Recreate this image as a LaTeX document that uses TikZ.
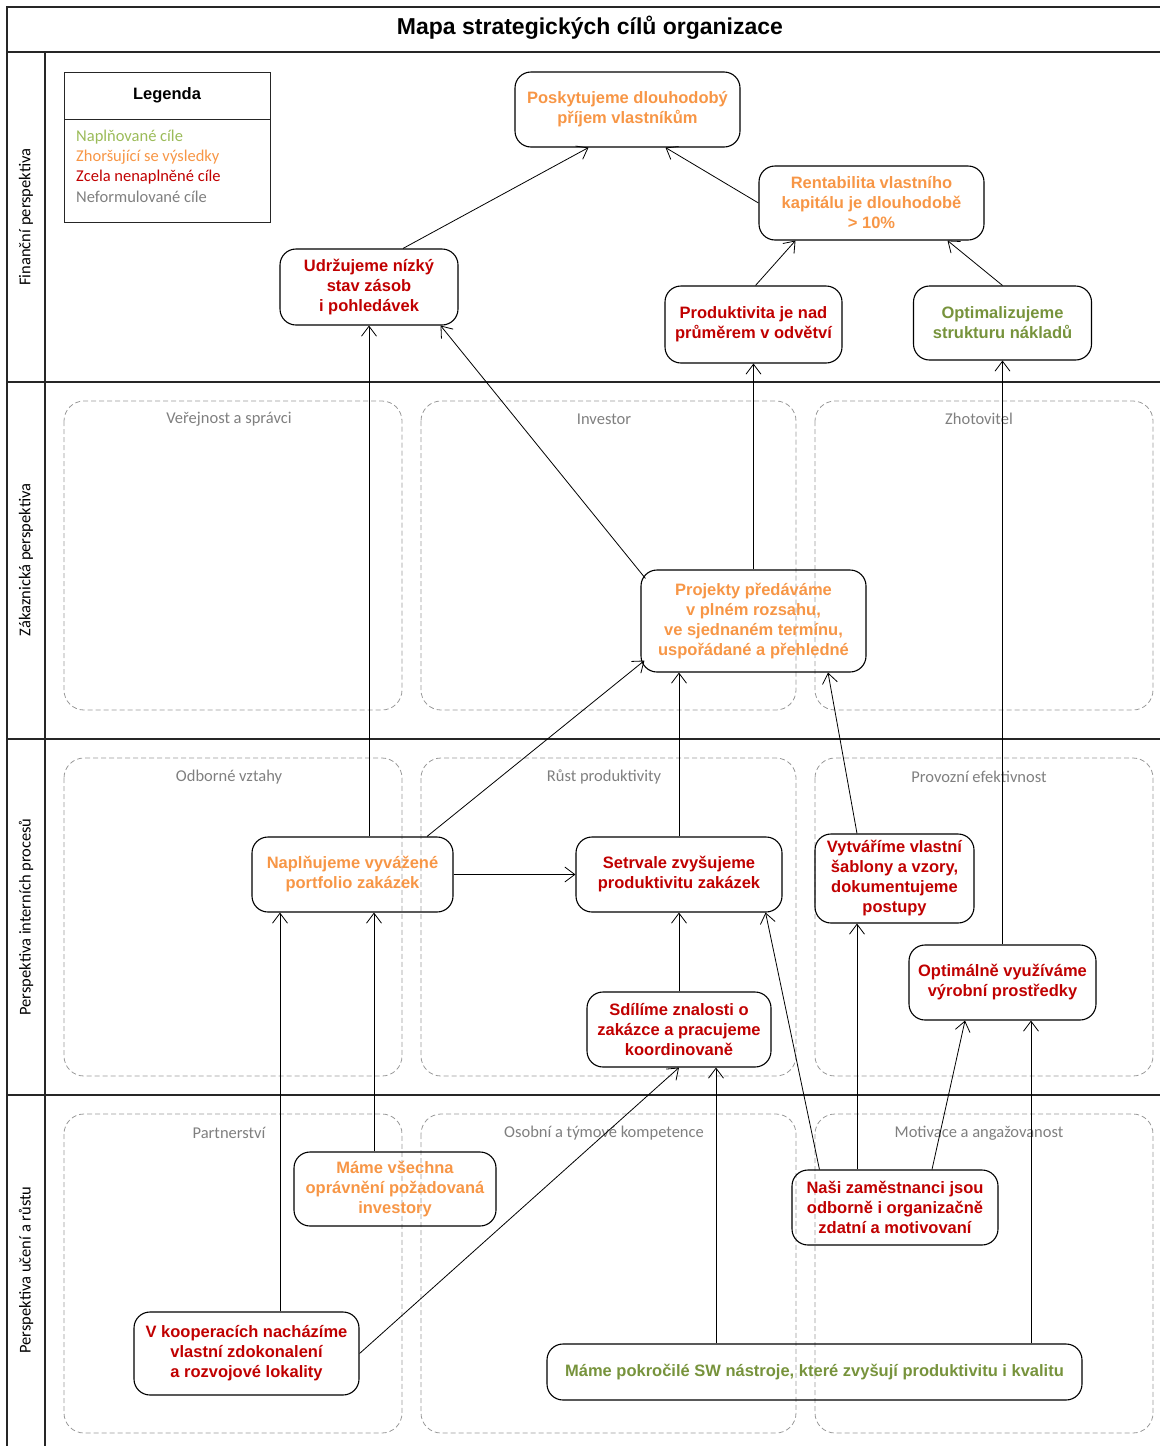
\documentclass[tikz,border=0pt]{standalone}
\usepackage{fontspec}
\setmainfont{Liberation Sans}
\newfontfamily\calibri{Carlito}
\usepackage{tikz}
\usetikzlibrary{arrows.meta}

\definecolor{zelena}{HTML}{77933C}
\definecolor{svzelena}{HTML}{9BBB59}
\definecolor{oranzova}{HTML}{F79646}
\definecolor{cervena}{HTML}{C00000}
\definecolor{seda}{HTML}{7F7F7F}

\begin{document}
\begin{tikzpicture}[
    x=1pt, y=-1pt,
    >={Straight Barb[length=10pt,width=15pt]},
    ramec/.style={line width=1.2pt, draw=black!85},
    cil/.style={draw, line width=1.1pt, rounded corners=16pt, align=center, inner sep=0pt,
        font=\fontsize{16.5}{20}\selectfont\bfseries},
    skupina/.style={draw=black!40, dash pattern=on 5pt off 3pt, line width=0.8pt, rounded corners=20pt},
    popis/.style={font=\calibri\fontsize{16.5}{20}\selectfont, text=seda},
    vazba/.style={->, line width=0.8pt}
]
\useasboundingbox (0,0) rectangle (1160,1446);

% rám, nadpis a perspektivy
\draw[ramec] (7,1446) -- (7,7) -- (1160,7);
\draw[ramec] (7,52) -- (1160,52);
\draw[ramec] (7,382) -- (1160,382);
\draw[ramec] (7,739) -- (1160,739);
\draw[ramec] (7,1095) -- (1160,1095);
\draw[ramec] (45,52) -- (45,1446);
\node (nazev) at (590,28) {\fontsize{23}{27}\selectfont\bfseries Mapa strategických cílů organizace};

\node[popis, text=black, rotate=90] (fin) at (26,217) {Finanční perspektiva};
\node[popis, text=black, rotate=90] (zak) at (26,560) {Zákaznická perspektiva};
\node[popis, text=black, rotate=90] (pro) at (26,917) {Perspektiva interních procesů};
\node[popis, text=black, rotate=90] (uce) at (26,1270) {Perspektiva učení a růstu};

% legenda
\draw[line width=1pt, draw=black!85] (64,72) rectangle (270,222);
\draw[line width=1pt, draw=black!85] (64,119) -- (270,119);
\node[font=\fontsize{16.5}{20}\selectfont\bfseries] (leg) at (167,95) {Legenda};
\node[popis, anchor=west, text=svzelena, inner sep=0pt] (l1) at (76,137) {Naplňované cíle};
\node[popis, anchor=west, text=oranzova, inner sep=0pt] (l2) at (76,157) {Zhoršující se výsledky};
\node[popis, anchor=west, text=cervena, inner sep=0pt] (l3) at (76,177) {Zcela nenaplněné cíle};
\node[popis, anchor=west, text=seda, inner sep=0pt] (l4) at (76,197) {Neformulované cíle};

% skupiny v zákaznické perspektivě
\draw[skupina] (64,401) rectangle (402,710);
\draw[skupina] (421,401) rectangle (796,710);
\draw[skupina] (815,401) rectangle (1153,710);
\node[popis] (g1) at (229,419) {Veřejnost a správci};
\node[popis] (g2) at (604,419) {Investor};
\node[popis] (g3) at (979,419) {Zhotovitel};

% skupiny v procesní perspektivě
\draw[skupina] (64,758) rectangle (402,1076);
\draw[skupina] (421,758) rectangle (796,1076);
\draw[skupina] (815,758) rectangle (1153,1076);
\node[popis] (g4) at (229,777) {Odborné vztahy};
\node[popis] (g5) at (604,777) {Růst produktivity};
\node[popis] (g6) at (979,777) {Provozní efektivnost};

% skupiny v perspektivě učení a růstu
\draw[skupina] (64,1114) rectangle (402,1433);
\draw[skupina] (421,1114) rectangle (796,1433);
\draw[skupina] (815,1114) rectangle (1153,1433);
\node[popis] (g7) at (229,1133) {Partnerství};
\node[popis] (g8) at (604,1133) {Osobní a týmové kompetence};
\node[popis] (g9) at (979,1133) {Motivace a angažovanost};

% cíle - finanční
\node[cil, text=oranzova, minimum width=225pt, minimum height=75pt] (prijem) at (627.5,109.5)
    {Poskytujeme dlouhodobý\\příjem vlastníkům};
\node[cil, text=oranzova, minimum width=225pt, minimum height=74pt] (rentabilita) at (871.5,203)
    {Rentabilita vlastního\\kapitálu je dlouhodobě\\> 10\%};
\node[cil, text=cervena, minimum width=178pt, minimum height=76pt] (zasoby) at (369,287)
    {Udržujeme nízký\\stav zásob\\i pohledávek};
\node[cil, text=cervena, minimum width=177pt, minimum height=77pt] (produktivita) at (753.5,324.5)
    {Produktivita je nad\\průměrem v odvětví};
\node[cil, text=zelena, minimum width=178pt, minimum height=74pt] (naklady) at (1002.5,323)
    {Optimalizujeme\\strukturu nákladů};

% cíle - zákaznické
\node[cil, text=oranzova, minimum width=225pt, minimum height=102pt] (projekty) at (753.5,621)
    {Projekty předáváme\\v plném rozsahu,\\ve sjednaném termínu,\\uspořádané a přehledné};

% cíle - procesní
\node[cil, text=oranzova, minimum width=201pt, minimum height=75pt] (portfolio) at (352.5,874.5)
    {Naplňujeme vyvážené\\portfolio zakázek};
\node[cil, text=cervena, minimum width=206pt, minimum height=75pt] (setrvale) at (679,874.5)
    {Setrvale zvyšujeme\\produktivitu zakázek};
\node[cil, text=cervena, minimum width=159pt, minimum height=89pt] (sablony) at (894.5,878.5)
    {Vytváříme vlastní\\šablony a vzory,\\dokumentujeme\\postupy};
\node[cil, text=cervena, minimum width=187pt, minimum height=75pt] (vyuzivame) at (1002.5,982.5)
    {Optimálně využíváme\\výrobní prostředky};
\node[cil, text=cervena, minimum width=184pt, minimum height=75pt] (sdilime) at (679,1029.5)
    {Sdílíme znalosti o\\zakázce a pracujeme\\koordinovaně};

% cíle - učení a růst
\node[cil, text=oranzova, minimum width=202pt, minimum height=74pt] (opravneni) at (395,1189)
    {Máme všechna\\oprávnění požadovaná\\investory};
\node[cil, text=cervena, minimum width=206pt, minimum height=75pt] (zamestnanci) at (895,1207.5)
    {Naši zaměstnanci jsou\\odborně i organizačně\\zdatní a motivovaní};
\node[cil, text=cervena, minimum width=225pt, minimum height=83pt] (kooperace) at (246.5,1353.5)
    {V kooperacích nacházíme\\vlastní zdokonalení\\a rozvojové lokality};
\node[cil, text=zelena, minimum width=535pt, minimum height=56pt] (nastroje) at (814.5,1372)
    {Máme pokročilé SW nástroje, které zvyšují produktivitu i kvalitu};

% vazby do finanční perspektivy
\draw[vazba] ([xshift=34pt]zasoby.north) -- ([xshift=-39pt]prijem.south);
\draw[vazba] (rentabilita.west) -- ([xshift=38pt]prijem.south);
\draw[vazba] ([xshift=2pt]produktivita.north) -- ([xshift=-76pt]rentabilita.south);
\draw[vazba] (naklady.north) -- ([xshift=76pt]rentabilita.south);

% vazby ze zákaznické perspektivy
\draw[vazba] ([shift={(5,9)}]projekty.north west) -- ([xshift=-18pt]zasoby.south east);
\draw[vazba] (projekty.north) -- (produktivita.south);

% vazby z procesů
\draw[vazba] (vyuzivame.north) -- (naklady.south);
\draw[vazba] ([xshift=16.5pt]portfolio.north) -- (zasoby.south);
\draw[vazba] ([xshift=74.5pt]portfolio.north) -- ([shift={(4,-12)}]projekty.south west);
\draw[vazba] (portfolio.east) -- (setrvale.west);
\draw[vazba] (setrvale.north) -- ([xshift=-74.5pt]projekty.south);
\draw[vazba] ([xshift=-37.5pt]sablony.north) -- ([xshift=74.5pt]projekty.south);
\draw[vazba] (sdilime.north) -- (setrvale.south);

% vazby z učení a růstu
\draw[vazba] ([xshift=28pt]zamestnanci.north west) -- ([xshift=-17pt]setrvale.south east);
\draw[vazba] ([xshift=-38pt]zamestnanci.north) -- ([xshift=-37.5pt]sablony.south);
\draw[vazba] ([xshift=37pt]zamestnanci.north) -- ([xshift=-37.5pt]vyuzivame.south);
\draw[vazba] ([xshift=-21pt]opravneni.north) -- ([xshift=21.5pt]portfolio.south);
\draw[vazba] ([xshift=33.5pt]kooperace.north) -- ([xshift=-72.5pt]portfolio.south);
\draw[vazba] (kooperace.east) -- (sdilime.south);
\draw[vazba] ([xshift=-98.5pt]nastroje.north) -- ([xshift=37pt]sdilime.south);
\draw[vazba] ([xshift=216.5pt]nastroje.north) -- ([xshift=28.5pt]vyuzivame.south);

\end{tikzpicture}
\end{document}
